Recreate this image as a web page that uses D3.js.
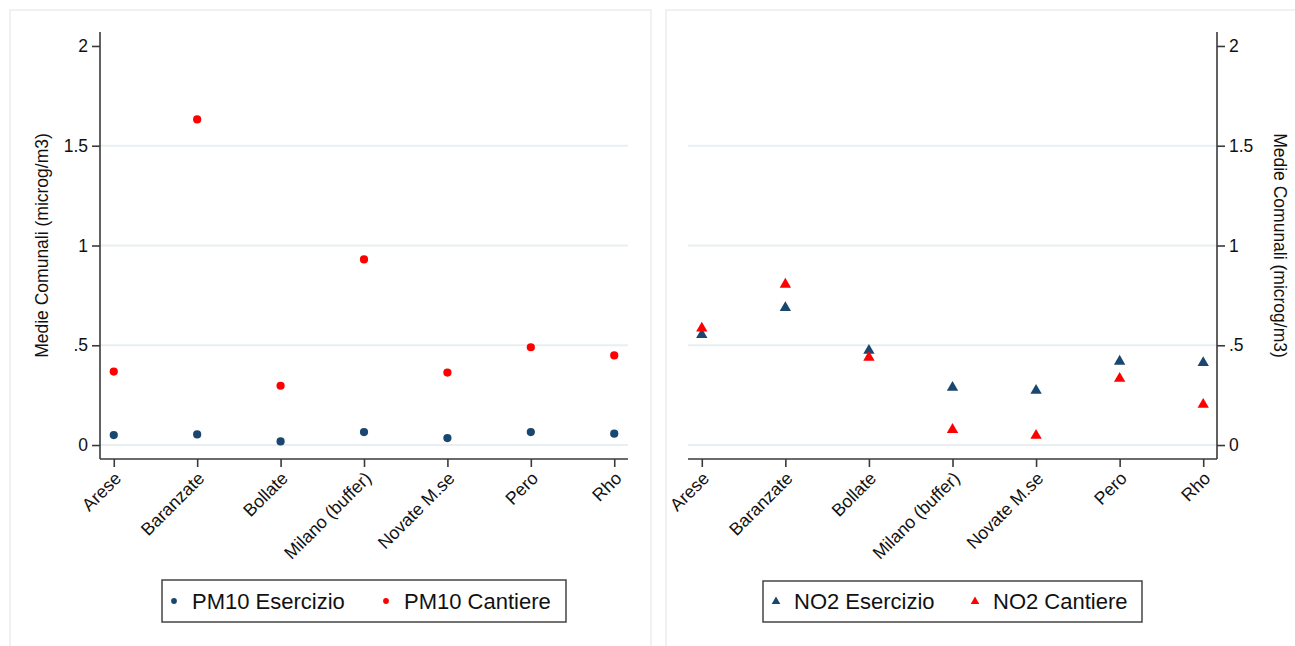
<!DOCTYPE html>
<html>
<head>
<meta charset="utf-8">
<script src="https://cdn.jsdelivr.net/npm/d3@7"></script>
<style>
  html, body { margin: 0; padding: 0; background: #ffffff; }
  svg { display: block; font-family: "Liberation Sans", Arial, sans-serif; }
</style>
</head>
<body>
<svg id="chart" width="1295" height="646"></svg>
<script>
// Municipalities along the x axis
const comuni = ["Arese", "Baranzate", "Bollate", "Milano (buffer)", "Novate M.se", "Pero", "Rho"];

// PM10 municipal means (microg/m3)
const pm10Esercizio = [0.050, 0.053, 0.018, 0.065, 0.035, 0.065, 0.057];
const pm10Cantiere  = [0.368, 1.632, 0.297, 0.930, 0.363, 0.490, 0.449];

// NO2 municipal means (microg/m3)
const no2Esercizio = [0.553, 0.688, 0.474, 0.288, 0.273, 0.419, 0.412];
const no2Cantiere  = [0.585, 0.805, 0.439, 0.077, 0.048, 0.333, 0.203];

// Y axis ticks and their labels
const yTicks = [0, 0.5, 1, 1.5, 2];
const yTickLabels = ["0", ".5", "1", "1.5", "2"];
const gridTicks = [0, 0.5, 1, 1.5];

const yTitle = "Medie Comunali (microg/m3)";
const navy = "#1a476f";
const red = "#ff0000";
const axisColor = "#3a3a3a";
const gridColor = "#e7eff2";
const frameColor = "#e9eef0";

const svg = d3.select("#chart");

// Light outer frames around the two graphs
svg.append("rect").attr("x", 10).attr("y", 10).attr("width", 641).attr("height", 645)
  .attr("fill", "#fff").attr("stroke", frameColor).attr("stroke-width", 1.5);
svg.append("rect").attr("x", 666).attr("y", 10).attr("width", 640).attr("height", 645)
  .attr("fill", "#fff").attr("stroke", frameColor).attr("stroke-width", 1.5);

const y = d3.scaleLinear().domain([-0.07, 2.07]).range([459, 32]);

function panel(opts) {
  const g = svg.append("g");
  const x = d3.scalePoint().domain(comuni).range([opts.x0, opts.x1]).padding(0.165);

  // gridlines
  g.selectAll("line.grid").data(gridTicks).join("line")
    .attr("x1", opts.x0).attr("x2", opts.x1)
    .attr("y1", d => y(d)).attr("y2", d => y(d))
    .attr("stroke", gridColor).attr("stroke-width", 2);

  // y axis
  const yAxisGen = (opts.side === "left" ? d3.axisLeft(y) : d3.axisRight(y))
    .tickValues(yTicks)
    .tickFormat((d, i) => yTickLabels[i])
    .tickSize(8).tickPadding(4);
  const yAxis = g.append("g")
    .attr("transform", `translate(${opts.side === "left" ? opts.x0 : opts.x1},0)`)
    .call(yAxisGen);
  yAxis.select(".domain").attr("d",
    `M0,${y.range()[0]}V${y.range()[1]}`);
  yAxis.selectAll(".domain, .tick line").attr("stroke", axisColor).attr("stroke-width", 1.6);
  yAxis.selectAll(".tick text").attr("fill", "#111").style("font-size", "17.5px");

  // x axis
  const xAxis = g.append("g").attr("transform", `translate(0,${y.range()[0]})`)
    .call(d3.axisBottom(x).tickSize(8).tickFormat(""));
  xAxis.select(".domain").attr("d", `M${opts.x0},0H${opts.x1}`);
  xAxis.selectAll(".domain, .tick line").attr("stroke", axisColor).attr("stroke-width", 1.6);
  xAxis.selectAll(".tick text").remove();

  // rotated category labels
  g.selectAll("text.cat").data(comuni).join("text")
    .attr("class", "cat")
    .attr("transform", d => `translate(${x(d) + 4},${y.range()[0] + 16}) rotate(-45)`)
    .attr("text-anchor", "end").attr("dy", "0.35em")
    .style("font-size", "17.8px").attr("fill", "#111")
    .text(d => d);

  // y axis title
  const tx = opts.side === "left" ? opts.x0 - 52 : opts.x1 + 57;
  g.append("text")
    .attr("transform", `translate(${tx},${y(1) }) rotate(${opts.side === "left" ? -90 : 90})`)
    .attr("text-anchor", "middle")
    .style("font-size", "17.5px").attr("fill", "#111")
    .text(yTitle);

  // markers
  opts.series.forEach(s => {
    if (s.shape === "circle") {
      g.selectAll(null).data(s.values).join("circle")
        .attr("cx", (d, i) => x(comuni[i])).attr("cy", d => y(d))
        .attr("r", 4.1).attr("fill", s.color);
    } else {
      g.selectAll(null).data(s.values).join("path")
        .attr("d", d3.symbol(d3.symbolTriangle, 56))
        .attr("transform", (d, i) => `translate(${x(comuni[i])},${y(d)})`)
        .attr("fill", s.color);
    }
  });

  // legend
  const L = opts.legend;
  const lg = g.append("g");
  lg.append("rect").attr("x", L.x).attr("y", L.y).attr("width", L.w).attr("height", L.h)
    .attr("fill", "#fff").attr("stroke", "#444").attr("stroke-width", 1.5);
  opts.series.forEach((s, i) => {
    const cx = L.x + L.items[i];
    const cy = L.y + L.h / 2;
    if (s.shape === "circle") {
      lg.append("circle").attr("cx", cx).attr("cy", cy).attr("r", 2.9).attr("fill", s.color);
    } else {
      lg.append("path").attr("d", d3.symbol(d3.symbolTriangle, 32))
        .attr("transform", `translate(${cx},${cy})`).attr("fill", s.color);
    }
    lg.append("text").attr("x", cx + 18).attr("y", cy).attr("dy", "0.36em")
      .style("font-size", "22px").attr("fill", "#111").text(s.name);
  });
}

panel({
  side: "left", x0: 100, x1: 628,
  series: [
    { name: "PM10 Esercizio", values: pm10Esercizio, color: navy, shape: "circle" },
    { name: "PM10 Cantiere", values: pm10Cantiere, color: red, shape: "circle" }
  ],
  legend: { x: 162, y: 580, w: 404, h: 42, items: [12, 224] }
});

panel({
  side: "right", x0: 688, x1: 1217,
  series: [
    { name: "NO2 Esercizio", values: no2Esercizio, color: navy, shape: "triangle" },
    { name: "NO2 Cantiere", values: no2Cantiere, color: red, shape: "triangle" }
  ],
  legend: { x: 763, y: 581, w: 379, h: 41, items: [13, 212] }
});
</script>
</body>
</html>
